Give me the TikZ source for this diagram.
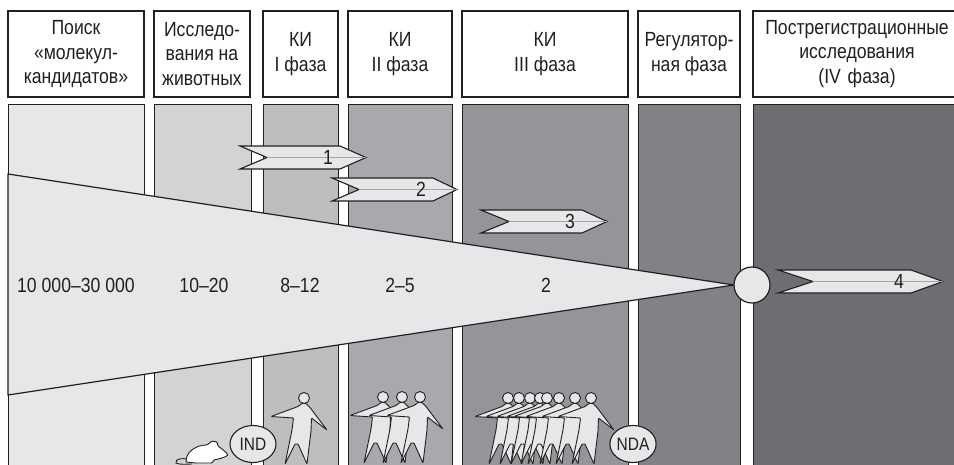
\documentclass[tikz,border=0pt]{standalone}
\usepackage{fontspec}
\setmainfont{Liberation Sans}[FakeStretch=0.86]
\usepackage{tikz}
\usetikzlibrary{shapes.geometric}
\definecolor{tintA}{HTML}{E6E7E8}
\definecolor{tintB}{HTML}{D1D3D4}
\definecolor{tintC}{HTML}{BCBEC0}
\definecolor{tintD}{HTML}{A7A9AC}
\definecolor{tintE}{HTML}{939598}
\definecolor{tintF}{HTML}{808285}
\definecolor{tintG}{HTML}{6D6E71}
\definecolor{inkgray}{HTML}{231F20}
\newcommand{\hdrfont}{\fontsize{20.5}{24.5}\selectfont}
\newcommand{\numfont}{\fontsize{20.5}{24}\selectfont}
\newcommand{\docfont}{\fontsize{18}{20}\selectfont}
% chevron: name, left x, notch x, body end x, tip x, mid y, label
\newcommand{\stagearrow}[7]{%
  \draw[chev] (#2,{#6-11.5}) -- (#4,{#6-11.5}) -- (#5,#6) -- (#4,{#6+11.5})
    -- (#2,{#6+11.5}) -- (#3,#6) -- cycle;
  \draw[chevline] (#3,#6) -- (#5,#6);
  \node[num] (#1) at ({#4-12},#6) {#7};
}

\begin{document}
\begin{tikzpicture}[x=1pt, y=-1pt,
  hdr/.style={draw=inkgray, line width=1.1, fill=white, inner sep=0, align=center,
    text=inkgray, font=\hdrfont},
  band/.style={draw=inkgray, line width=0.9},
  funnel/.style={draw=inkgray, line width=1.2, fill=tintA},
  chev/.style={draw=inkgray, line width=1.1, fill=tintA},
  chevline/.style={draw=black!35, line width=0.6},
  num/.style={inner sep=0, text=inkgray, font=\numfont},
  person/.style={draw=inkgray, line width=0.9, fill=tintA, rounded corners=0.8},
  doc/.style={ellipse, draw=inkgray, line width=1.1, fill=tintA, inner sep=0,
    minimum width=46, minimum height=37, text=inkgray, font=\docfont},
  pics/walker/.style={code={
    \draw[person] (2,5.5) -- (6,9.5) -- (23,32) -- (7.5,20) -- (7,33) -- (3,66)
      -- (-6,46) -- (-9,46) -- (-19,66) -- (-12,32) -- (-10.5,20) -- (-33,18.5)
      -- (-6,8.5) -- (-2,5.5) -- cycle;
    \draw[person] (0,0) circle (5.5);
  }}
]
\useasboundingbox (0,0) rectangle (954,464);
\clip (0,0) rectangle (954,464);

% column headings
\node[hdr, minimum width=136, minimum height=86] (h1) at (76,54) {Поиск\\«молекул-\\кандидатов»};
\node[hdr, minimum width=96, minimum height=86] (h2) at (202,54) {Исследо-\\вания на\\животных};
\node[hdr, minimum width=75, minimum height=86] (h3) at (300.5,54) {КИ\\I фаза};
\node[hdr, minimum width=104, minimum height=86] (h4) at (400,54) {КИ\\II фаза};
\node[hdr, minimum width=166, minimum height=86] (h5) at (545,54) {КИ\\III фаза};
\node[hdr, minimum width=102, minimum height=86] (h6) at (689,54) {Регулятор-\\ная фаза};
\node[hdr, minimum width=208, minimum height=86, text width=200] (h7) at (857,54) {Пострегистрационные\\исследования\\(IV фаза)};

% shaded columns
\draw[band, fill=tintA] (8,104) rectangle (144,470);
\draw[band, fill=tintB] (154,104) rectangle (251,470);
\draw[band, fill=tintC] (263,104) rectangle (338,470);
\draw[band, fill=tintD] (348,104) rectangle (452,470);
\draw[band, fill=tintE] (462,104) rectangle (628,470);
\draw[band, fill=tintF] (638,104) rectangle (740,470);
\draw[band, fill=tintG] (753,104) rectangle (962,470);

% candidates funnel
\coordinate (tip) at (734,285);
\draw[funnel] (8,174) -- (tip) -- (8,395) -- cycle;
\node[circle, draw=inkgray, line width=1.2, fill=tintA, minimum size=36, inner sep=0] (apex) at (752,285) {};

\node[num] (n1) at (76,285) {10 000–30 000};
\node[num] (n2) at (204,285) {10–20};
\node[num] (n3) at (300,285) {8–12};
\node[num] (n4) at (400,285) {2–5};
\node[num] (n5) at (546,285) {2};

% trial phases
\stagearrow{a1}{240}{267}{340}{366}{157.5}{1}
\stagearrow{a2}{332}{359}{433}{457}{189.5}{2}
\stagearrow{a3}{481}{509}{582}{607}{221.5}{3}
\stagearrow{a4}{778}{813}{911}{943}{281.5}{4}

% mouse
\draw[inkgray, line width=0.9] (189,460) .. controls (182,457) and (175,459) .. (176,463)
  .. controls (180,465) and (186,464) .. (192,464);
\draw[person, fill=white] (186,462) .. controls (186,452) and (196,445) .. (207,445)
  -- (212,441) -- (217,442) -- (218,446) .. controls (222,449) and (226,452) .. (228,455)
  .. controls (224,458) and (218,459) .. (214,460) -- (212,463) -- (196,463) -- cycle;

% volunteers and patients
\pic at (304,398) {walker};
\pic at (383,397) {walker};
\pic at (402,397) {walker};
\pic at (420,397) {walker};
\pic at (508,398) {walker};
\pic at (519,398) {walker};
\pic at (530,398) {walker};
\pic at (540,398) {walker};
\pic at (547,398) {walker};
\pic at (559,398) {walker};
\pic at (575,398) {walker};
\pic at (591,398) {walker};

\node[doc] (ind) at (253,444) {IND};
\node[doc] (nda) at (633,444) {NDA};
\end{tikzpicture}
\end{document}
